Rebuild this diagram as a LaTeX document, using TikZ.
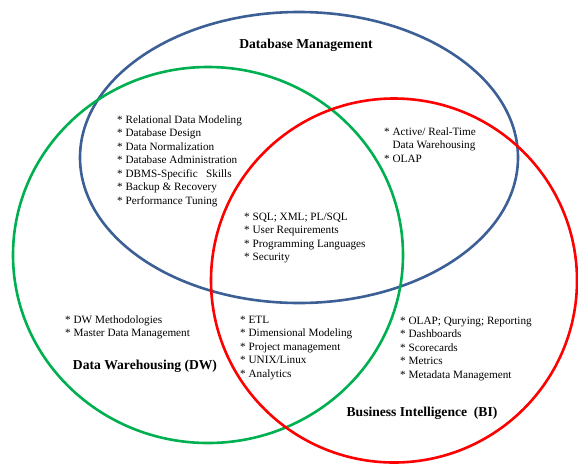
\documentclass[tikz,border=0pt]{standalone}
\usepackage{fontspec}
\setmainfont{Liberation Serif}
\usetikzlibrary{backgrounds}

\definecolor{dbblue}{RGB}{60,96,150}
\definecolor{dwgreen}{RGB}{0,176,80}
\definecolor{bired}{RGB}{255,0,0}

\tikzset{
  setline/.style={line width=2.6pt},
  itemlist/.style={anchor=north west,align=left,inner sep=0pt,
    font=\fontsize{11.2}{13.5}\selectfont},
  settitle/.style={inner sep=0pt,font=\fontsize{13.6}{15}\selectfont\bfseries}
}

\begin{document}
\begin{tikzpicture}[x=1pt,y=-1pt]
\useasboundingbox (0,0) rectangle (578,464);

% draw the three sets
\draw[setline,dbblue] (299,157.5) ellipse (219 and 145.5);
\draw[setline,dwgreen] (208,255) ellipse (195 and 188);
\draw[setline,bired] (394,280.5) ellipse (183 and 182);

% set titles
\node[settitle] (dbtitle) at (306,45) {Database Management};
\node[settitle] (dwtitle) at (145,366) {Data Warehousing (DW)};
\node[settitle] (bititle) at (422,413) {Business Intelligence\ \ (BI)};

% database only
\node[itemlist] (dbonly) at (117,115.5) {* Relational Data Modeling\\
  * Database Design\\
  * Data Normalization\\
  * Database Administration\\
  * DBMS-Specific\ \ \ Skills\\
  * Backup \& Recovery\\
  * Performance Tuning};

% database and BI
\node[itemlist] (dbbi) at (384,127.5) {* Active/\ Real-Time\\
  \phantom{* }Data Warehousing\\
  * OLAP};

% all three
\node[itemlist] (allsets) at (244,212.5) {* SQL; XML; PL/SQL\\
  * User Requirements\\
  * Programming Languages\\
  * Security};

% DW only
\node[itemlist] (dwonly) at (65,315.5) {* DW Methodologies\\
  * Master Data Management};

% DW and BI
\node[itemlist] (dwbi) at (240,315.5) {* ETL\\
  * Dimensional Modeling\\
  * Project management\\
  * UNIX/Linux\\
  * Analytics};

% BI only
\node[itemlist] (bionly) at (400,316.5) {* OLAP; Qurying; Reporting\\
  * Dashboards\\
  * Scorecards\\
  * Metrics\\
  * Metadata Management};

\end{tikzpicture}
\end{document}
